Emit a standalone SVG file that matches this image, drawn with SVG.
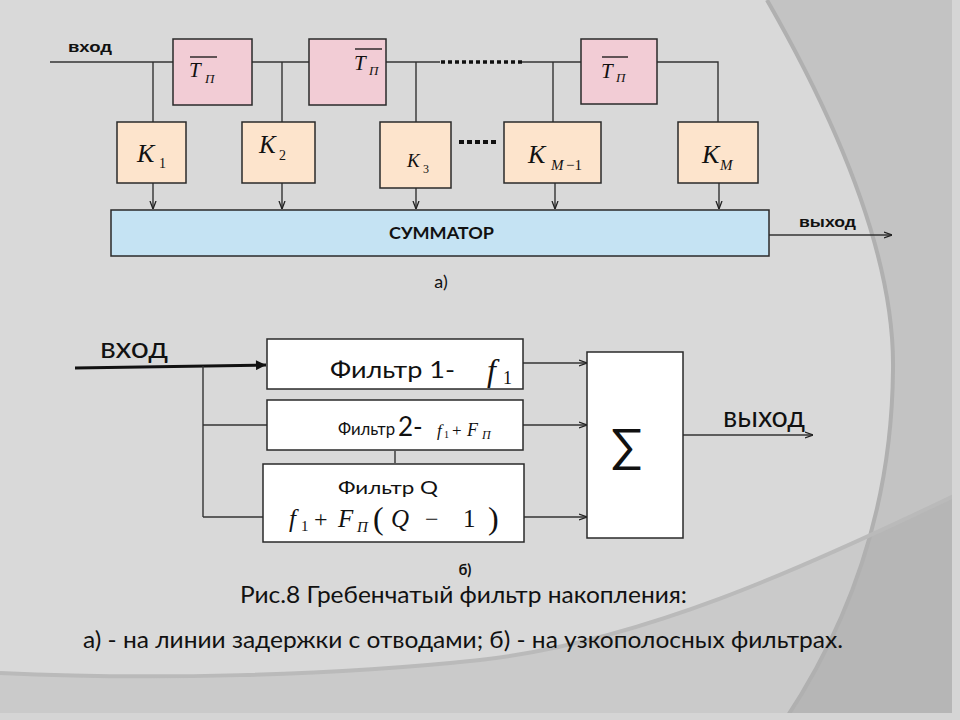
<svg xmlns="http://www.w3.org/2000/svg" width="960" height="720" viewBox="0 0 960 720">
<style>
.box{stroke:#2a2a2a;stroke-width:1.5}
.delay{fill:#f2ccd5}
.coef{fill:#fde4cc}
.sum{fill:#c5e3f3}
.wht{fill:#ffffff}
.ln{fill:none;stroke:#333;stroke-width:1.4}
.mi{font-family:"Liberation Serif","Times New Roman",serif;font-style:italic;fill:#111}
.mr{font-family:"Liberation Serif","Times New Roman",serif;fill:#111}
.lb{font-family:"Liberation Sans",Arial,sans-serif;font-weight:bold;fill:#111}
.cal{font-family:Lato,"Open Sans",sans-serif;fill:#111}
</style>
<defs>
<marker id="ch" viewBox="0 0 8 8" refX="8" refY="4" markerWidth="8" markerHeight="8" markerUnits="userSpaceOnUse" orient="auto"><path d="M0,1 L8,4 L0,7" fill="none" stroke="#222" stroke-width="1.3"/></marker>
<marker id="tri" viewBox="0 0 10 10" refX="10" refY="5" markerWidth="13" markerHeight="10" markerUnits="userSpaceOnUse" orient="auto"><path d="M0,0 L10,5 L0,10 Z" fill="#111"/></marker>
</defs>
<!-- background -->
<rect width="960" height="720" fill="#d9d9d9"/>
<path d="M767,0 C830,110 895,250 893,370 C892,480 865,600 785,720 L960,720 L960,0 Z" fill="#c3c3c3"/>
<path d="M0,673 C150,680 330,676 480,660 C640,642 800,570 960,493 L960,720 L0,720 Z" fill="#000" fill-opacity="0.065"/>
<path d="M767,0 C830,110 895,250 893,370 C892,480 865,600 785,720" fill="none" stroke="#b0b0b0" stroke-width="4"/>
<path d="M0,673 C150,680 330,676 480,660 C640,642 800,570 960,493" fill="none" stroke="#bababa" stroke-width="4"/>
<rect x="952" y="0" width="8" height="720" fill="#d5d5d5"/>
<rect x="0" y="713" width="960" height="7" fill="#d5d5d5"/>

<!-- connectors -->
<g id="connectors">
<path class="ln" d="M50,62 H173"/>
<path class="ln" d="M153,62 V122"/>
<path class="ln" d="M252,62 H309"/>
<path class="ln" d="M282,62 V122"/>
<path class="ln" d="M386,62 H440"/>
<path class="ln" d="M416,62 V122"/>
<path d="M441,62 H522" fill="none" stroke="#111" stroke-width="3.5" stroke-dasharray="4,3"/>
<path class="ln" d="M522,62 H581"/>
<path class="ln" d="M553,62 V122"/>
<path class="ln" d="M657,62 H718 V122"/>
<path d="M459,142 H497" fill="none" stroke="#111" stroke-width="4" stroke-dasharray="5,3"/>
<path class="ln" d="M153,165 V209" marker-end="url(#ch)"/>
<path class="ln" d="M282,163 V209" marker-end="url(#ch)"/>
<path class="ln" d="M416,165 V209" marker-end="url(#ch)"/>
<path class="ln" d="M555,165 V209" marker-end="url(#ch)"/>
<path class="ln" d="M719,165 V209" marker-end="url(#ch)"/>
<path class="ln" d="M769,235 H892" marker-end="url(#ch)"/>

<path d="M75,368 L266,365" fill="none" stroke="#111" stroke-width="3" marker-end="url(#tri)"/>
<path class="ln" d="M203,366 V517"/>
<path class="ln" d="M203,425 H267"/>
<path class="ln" d="M203,517 H263"/>
<path class="ln" d="M395,451 V463" stroke-width="1"/>
<path class="ln" d="M523,363 H587" marker-end="url(#ch)"/>
<path class="ln" d="M523,425 H587" marker-end="url(#ch)"/>
<path class="ln" d="M524,517 H587" marker-end="url(#ch)"/>
<path class="ln" d="M683,435 H813" marker-end="url(#ch)"/>
</g>

<!-- part a nodes -->
<text class="lb" x="68" y="52" font-size="15" textLength="44" lengthAdjust="spacingAndGlyphs">вход</text>

<g id="delay1">
<rect class="box delay" x="173" y="39" width="79" height="66"/>
<line x1="190" y1="57" x2="217" y2="57" stroke="#111" stroke-width="1.3"/>
<text class="mi" x="189" y="77" font-size="21">T</text>
<text class="mi" x="205" y="83" font-size="13">П</text>
</g>
<g id="delay2">
<rect class="box delay" x="309" y="39" width="77" height="66"/>
<line x1="355" y1="49" x2="382" y2="49" stroke="#111" stroke-width="1.3"/>
<text class="mi" x="354" y="70" font-size="21">T</text>
<text class="mi" x="369" y="75" font-size="13">П</text>
</g>
<g id="delay3">
<rect class="box delay" x="581" y="39" width="76" height="65"/>
<line x1="602" y1="57" x2="628" y2="57" stroke="#111" stroke-width="1.3"/>
<text class="mi" x="601" y="78" font-size="21">T</text>
<text class="mi" x="616" y="82" font-size="13">П</text>
</g>

<g id="k1">
<rect class="box coef" x="117" y="122" width="69" height="61"/>
<text class="mi" x="137" y="162" font-size="26">K</text>
<text class="mr" x="159" y="168" font-size="14">1</text>
</g>
<g id="k2">
<rect class="box coef" x="242" y="122" width="73" height="61"/>
<text class="mi" x="259" y="153" font-size="25">K</text>
<text class="mr" x="279" y="160" font-size="14">2</text>
</g>
<g id="k3">
<rect class="box coef" x="380" y="122" width="71" height="66"/>
<text class="mi" x="407" y="167" font-size="19">K</text>
<text class="mr" x="423" y="173" font-size="12">3</text>
</g>
<g id="km1">
<rect class="box coef" x="504" y="122" width="97" height="61"/>
<text class="mi" x="528" y="163" font-size="26">K</text>
<text class="mi" x="551" y="170" font-size="15">M</text>
<text class="mr" x="566" y="170" font-size="15">−1</text>
</g>
<g id="km">
<rect class="box coef" x="678" y="122" width="80" height="61"/>
<text class="mi" x="702" y="163" font-size="26">K</text>
<text class="mi" x="720" y="170" font-size="15">M</text>
</g>

<g id="summator">
<rect class="box sum" x="111" y="210" width="658" height="46"/>
<text class="cal" x="389" y="239" font-size="17" font-weight="bold" textLength="105" lengthAdjust="spacingAndGlyphs">СУММАТОР</text>
</g>
<text class="lb" x="799" y="227" font-size="15" textLength="57" lengthAdjust="spacingAndGlyphs">выход</text>
<text class="cal" x="441" y="288" font-size="18" text-anchor="middle">а)</text>

<!-- part b nodes -->
<text class="cal" x="100" y="358" font-size="28" textLength="68" lengthAdjust="spacingAndGlyphs">вход</text>

<g id="filter1">
<rect class="box wht" x="267" y="339" width="256" height="50"/>
<text class="cal" x="330" y="378" font-size="24" textLength="125" lengthAdjust="spacingAndGlyphs">Фильтр 1-</text>
<text class="mi" x="487" y="381" font-size="32">f</text>
<text class="mr" x="503" y="384" font-size="18">1</text>
</g>
<g id="filter2">
<rect class="box wht" x="267" y="400" width="256" height="50"/>
<text class="cal" x="338" y="435" font-size="18" textLength="57" lengthAdjust="spacingAndGlyphs">Фильтр</text>
<text class="cal" x="398" y="436" font-size="26">2-</text>
<text class="mi" x="437" y="436" font-size="17">f</text>
<text class="mr" x="444" y="438" font-size="10">1</text>
<text class="mr" x="452" y="436" font-size="17">+</text>
<text class="mi" x="467" y="436" font-size="18">F</text>
<text class="mi" x="482" y="439" font-size="12">П</text>
</g>
<g id="filterQ">
<rect class="box wht" x="263" y="464" width="261" height="78"/>
<text class="cal" x="338" y="494" font-size="18" textLength="100" lengthAdjust="spacingAndGlyphs">Фильтр Q</text>
<text class="mi" x="289" y="527" font-size="25">f</text>
<text class="mr" x="301" y="531" font-size="15">1</text>
<text class="mr" x="314" y="527" font-size="24">+</text>
<text class="mi" x="338" y="527" font-size="25">F</text>
<text class="mi" x="357" y="532" font-size="15">П</text>
<text class="mr" x="373" y="529" font-size="32">(</text>
<text class="mi" x="391" y="527" font-size="25">Q</text>
<text class="mr" x="425" y="527" font-size="24">−</text>
<text class="mr" x="463" y="527" font-size="25">1</text>
<text class="mr" x="488" y="529" font-size="32">)</text>
</g>
<g id="sigma">
<rect class="box wht" x="587" y="352" width="96" height="186"/>
<text class="cal" x="627" y="462" font-size="46" text-anchor="middle">∑</text>
</g>
<text class="cal" x="723" y="427" font-size="28" textLength="82" lengthAdjust="spacingAndGlyphs">выход</text>

<text class="cal" x="465" y="575" font-size="15" font-weight="bold" text-anchor="middle">б)</text>
<text class="cal" x="240" y="603" font-size="23" textLength="447" lengthAdjust="spacingAndGlyphs">Рис.8 Гребенчатый фильтр накопления:</text>
<text class="cal" x="83" y="648" font-size="24" textLength="760" lengthAdjust="spacingAndGlyphs">а) - на линии задержки с отводами; б) - на узкополосных фильтрах.</text>
</svg>
